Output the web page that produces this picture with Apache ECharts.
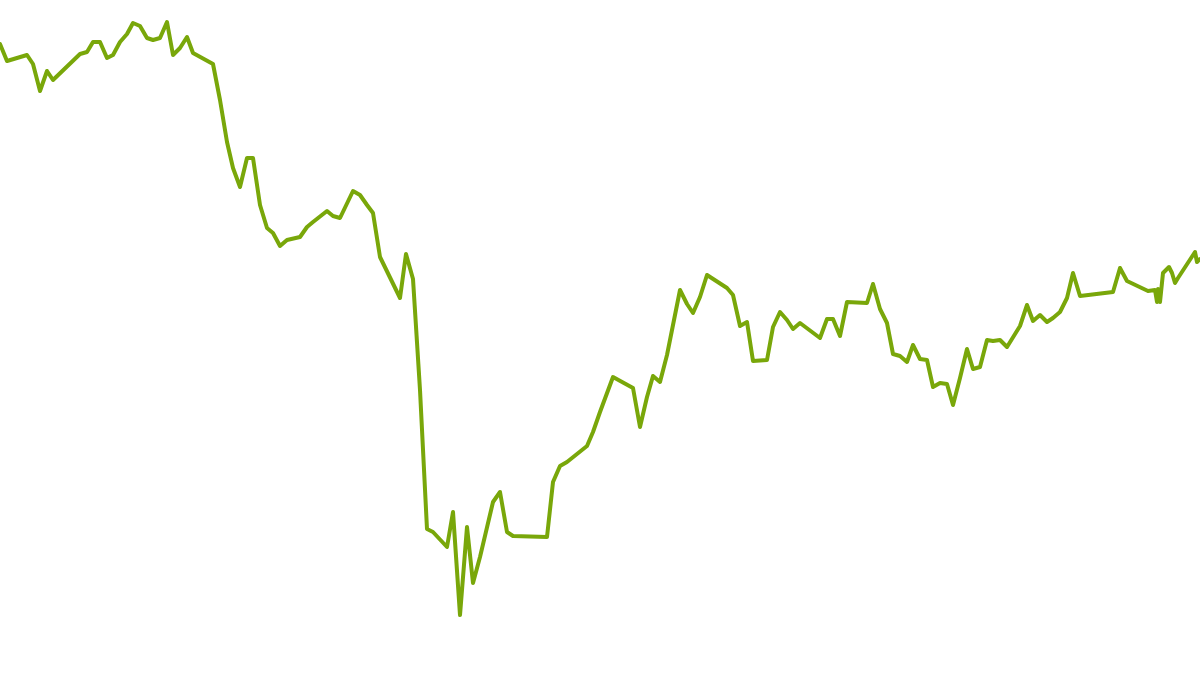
<!DOCTYPE html>
<html>
<head>
<meta charset="utf-8">
<script src="https://cdn.jsdelivr.net/npm/echarts@6/dist/echarts.min.js"></script>
<style>
html,body{margin:0;padding:0;background:#fff;}
#chart{width:1200px;height:675px;}
</style>
</head>
<body>
<div id="chart"></div>
<script>
// x positions (time index) and values (height above baseline)
const xs = [0,7,27,33,40,47,53,80,87,93,100,107,113,120,127,133,140,147,153,160,167,173,180,187,193,213,
220,227,233,240,247,253,260,267,273,280,287,300,307,313,327,333,340,353,360,367,373,380,400,406,413,
420,427,433,447,453,460,467,473,480,493,500,507,513,547,553,560,567,587,593,600,613,633,640,647,653,660,667,
680,687,693,700,707,727,733,740,747,753,767,773,780,787,793,800,820,827,833,840,847,867,873,880,887,893,900,
907,913,920,927,933,940,947,953,960,967,973,980,987,993,1000,1007,1020,1027,1033,1040,1047,1053,1060,1067,
1073,1080,1113,1120,1127,1148,1155,1157,1158,1160,1163,1165,1169,1172,1175,1178,1195,1197,1200];
const yPix = [44,61,55,64,91,71,80,54,52,42,42,58,55,42,34,23,26,38,40,38,22,55,48,37,53,64,
100,142,168,187,158,158,205,228,233,246,240,237,227,222,211,216,218,191,195,205,213,257,298,254,279,
390,529,532,547,512,615,527,583,557,502,492,532,536,537,482,466,462,446,432,412,377,388,427,397,376,382,355,
290,304,313,297,275,288,295,326,322,361,360,327,312,320,329,323,338,319,319,336,302,303,284,309,323,354,356,
362,345,359,360,387,383,384,405,378,349,369,367,340,341,340,347,326,305,321,315,322,318,312,298,
273,296,292,268,281,291,290,302,289,302,273,272,267,273,283,278,252,262,259];
const values = yPix.map(v => 675 - v);
const data = xs.map((x, i) => [x, values[i]]);

const chart = echarts.init(document.getElementById('chart'), null, {renderer: 'canvas'});
chart.setOption({
  animation: false,
  backgroundColor: '#ffffff',
  grid: {left: 0, right: 0, top: 0, bottom: 0},
  xAxis: {type: 'value', min: 0, max: 1200, show: false},
  yAxis: {type: 'value', min: 0, max: 675, show: false},
  series: [{
    type: 'line',
    data: data,
    showSymbol: false,
    symbol: 'none',
    lineStyle: {color: '#79a70a', width: 4, join: 'round', cap: 'round'},
    clip: true
  }]
});
</script>
</body>
</html>
